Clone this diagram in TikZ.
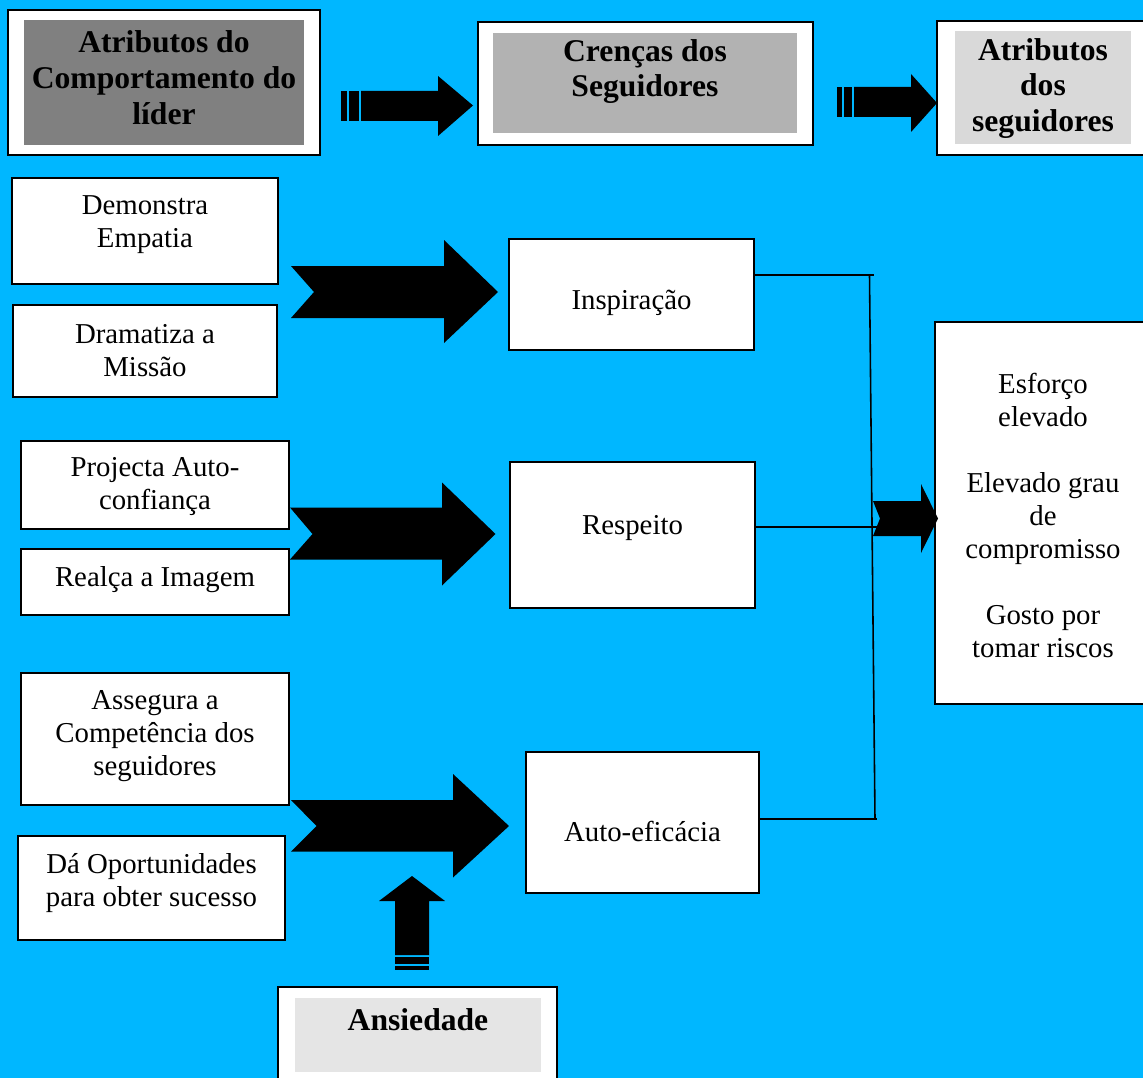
\documentclass[tikz,border=0pt]{standalone}
\usepackage{fontspec}
\setmainfont{Liberation Serif}
\definecolor{bgcyan}{RGB}{0,183,255}
\definecolor{greyA}{RGB}{128,128,128}
\definecolor{greyB}{RGB}{178,178,178}
\definecolor{greyC}{RGB}{217,217,217}
\definecolor{greyD}{RGB}{229,229,229}
\begin{document}
\begin{tikzpicture}[x=0.02cm,y=-0.02cm,
  box/.style={draw=black, line width=1.1pt, fill=white, inner sep=0pt, outer sep=0pt},
  shade/.style={inner sep=0pt, outer sep=0pt},
  txt/.style={align=center, inner sep=0pt, yshift=-0.06cm, font=\fontsize{16.4}{18.8}\selectfont},
  hdr/.style={align=center, inner sep=0pt, yshift=-0.06cm, font=\fontsize{18}{20.4}\selectfont\bfseries},
  blk/.style={fill=black},
  conn/.style={line width=0.9pt}]
\useasboundingbox (0,0) rectangle (1143,1078);
\fill[bgcyan] (0,0) rectangle (1143,1078);

% header boxes
\node[box, minimum width=6.24cm, minimum height=2.9cm] (h1) at (164,82.5) {};
\node[shade, fill=greyA, minimum width=5.6cm, minimum height=2.5cm] (h1in) at (164,82.5) {};
\node[hdr] (h1t) at (164,75) {Atributos do\\Comportamento do\\líder};

\node[box, minimum width=6.7cm, minimum height=2.46cm] (h2) at (645.5,83.5) {};
\node[shade, fill=greyB, minimum width=6.08cm, minimum height=2.0cm] (h2in) at (645,83) {};
\node[hdr] (h2t) at (645,68.5) {Crenças dos\\Seguidores};

\node[box, minimum width=4.26cm, minimum height=2.68cm] (h3) at (1043.5,88) {};
\node[shade, fill=greyC, minimum width=3.52cm, minimum height=2.26cm] (h3in) at (1043,87.5) {};
\node[hdr] (h3t) at (1043,85.5) {Atributos\\dos\\seguidores};

% left boxes
\node[box, minimum width=5.32cm, minimum height=2.12cm] (b1) at (145,231) {};
\node[txt] (b1t) at (145,222) {Demonstra\\Empatia};
\node[box, minimum width=5.28cm, minimum height=1.84cm] (b2) at (145,351) {};
\node[txt] (b2t) at (145,348) {Dramatiza a\\Missão};
\node[box, minimum width=5.36cm, minimum height=1.76cm] (b3) at (155,485) {};
\node[txt] (b3t) at (155,484) {Projecta Auto-\\confiança};
\node[box, minimum width=5.36cm, minimum height=1.32cm] (b4) at (155,582) {};
\node[txt] (b4t) at (155,577) {Realça a Imagem};
\node[box, minimum width=5.36cm, minimum height=2.64cm] (b5) at (155,739) {};
\node[txt] (b5t) at (155,733) {Assegura a\\Competência dos\\seguidores};
\node[box, minimum width=5.34cm, minimum height=2.08cm] (b6) at (151.5,888) {};
\node[txt] (b6t) at (151.5,880) {Dá Oportunidades\\para obter sucesso};

% middle boxes
\node[box, minimum width=4.9cm, minimum height=2.22cm] (insp) at (631.5,294.5) {};
\node[txt] (inspt) at (631.5,300) {Inspiração};
\node[box, minimum width=4.9cm, minimum height=2.92cm] (resp) at (632.5,535) {};
\node[txt] (respt) at (632.5,525) {Respeito};
\node[box, minimum width=4.66cm, minimum height=2.82cm] (auto) at (642.5,822.5) {};
\node[txt] (autot) at (642.5,828) {Auto-eficácia};

% right box
\node[box, minimum width=4.3cm, minimum height=7.64cm] (res) at (1042.5,513) {};
\node[txt] (rest) at (1043,512.5) {Esforço\\elevado\\[18.6pt]Elevado grau\\de\\compromisso\\[18.6pt]Gosto por\\tomar riscos};

% Ansiedade
\node[box, minimum width=5.58cm, minimum height=2.06cm] (ans) at (417.5,1038.5) {};
\node[shade, fill=greyD, minimum width=4.92cm, minimum height=1.48cm] (ansin) at (418,1035) {};
\node[hdr] (anst) at (418,1017) {Ansiedade};

% connectors
\coordinate (jt) at (869.5,275);
\coordinate (jm) at (872.5,527);
\coordinate (jb) at (875,819);
\draw[conn] (insp.east |- jt) -- ([xshift=0.09cm]jt);
\draw[conn] (resp.east |- jm) -- ([xshift=0.09cm]jm);
\draw[conn] (auto.east |- jb) -- ([xshift=0.04cm]jb);
\draw[conn] (jt) -- (jb);

% striped header arrows
\fill[blk] (341,91) rectangle (347,121);
\fill[blk] (349,91) rectangle (359,121);
\fill[blk] (361,91) -- (438,91) -- (438,76) -- (473,105.5) -- (438,136) -- (438,121) -- (361,121) -- cycle;

\fill[blk] (837,87) rectangle (842,117);
\fill[blk] (844,87) rectangle (852,117);
\fill[blk] (854,87) -- (911,87) -- (911,74) -- (937,103) -- (911,132) -- (911,117) -- (854,117) -- cycle;

% chevron arrows
\fill[blk] (291,266) -- (314,292) -- (291,318) -- (444,318) -- (444,343) -- (498,292) -- (444,240) -- (444,266) -- cycle;
\fill[blk] (290,507.5) -- (312.5,534) -- (290,559.5) -- (442,559.5) -- (442,585.5) -- (495.5,534) -- (442,482.5) -- (442,507.5) -- cycle;
\fill[blk] (291,800) -- (316.5,826) -- (291,851.5) -- (453,851.5) -- (453,877.5) -- (509,826) -- (453,774) -- (453,800) -- cycle;
\fill[blk] (873,501) -- (880,518.5) -- (873,536) -- (921,536) -- (921,553) -- (938,518.5) -- (921,484) -- (921,501) -- cycle;

% Ansiedade arrow
\fill[blk] (412,876) -- (445,901) -- (429,901) -- (429,955) -- (395,955) -- (395,901) -- (379,901) -- cycle;
\fill[blk] (395,957) rectangle (429,964);
\fill[blk] (395,966) rectangle (429,969.5);
\end{tikzpicture}
\end{document}
